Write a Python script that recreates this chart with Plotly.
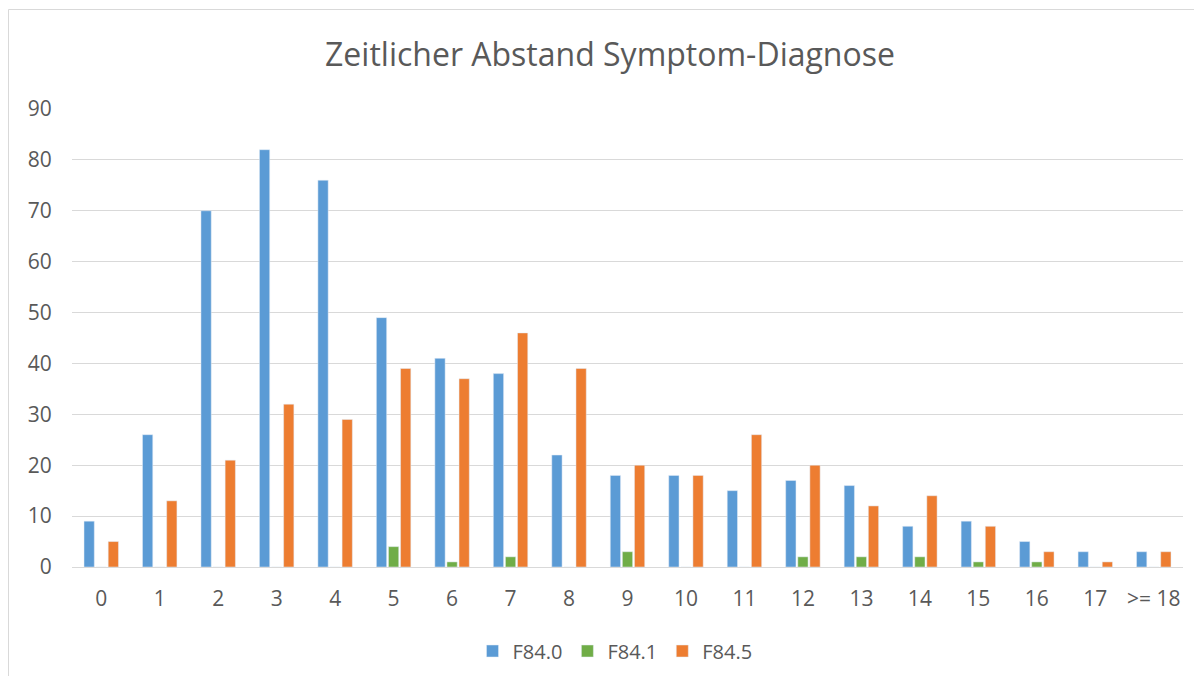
import plotly.graph_objects as go

categories = ["0", "1", "2", "3", "4", "5", "6", "7", "8", "9", "10", "11", "12", "13", "14", "15", "16", "17", ">= 18"]
f840 = [9, 26, 70, 82, 76, 49, 41, 38, 22, 18, 18, 15, 17, 16, 8, 9, 5, 3, 3]
f841 = [0, 0, 0, 0, 0, 4, 1, 2, 0, 3, 0, 0, 2, 2, 2, 1, 1, 0, 0]
f845 = [5, 13, 21, 32, 29, 39, 37, 46, 39, 20, 18, 26, 20, 12, 14, 8, 3, 1, 3]
y_ticks = [0, 10, 20, 30, 40, 50, 60, 70, 80, 90]

FONT = "'Open Sans', sans-serif"
GRAY = "#595959"

fig = go.Figure()
fig.add_bar(x=categories, y=f840, name="F84.0", marker_color="#5B9BD5")
fig.add_bar(x=categories, y=f841, name="F84.1", marker_color="#70AD47")
fig.add_bar(x=categories, y=f845, name="F84.5", marker_color="#ED7D31")

# page is offset by the 8px body margin
W, H = 1186, 668
L, T = 64, 101
R = W - 1175
B = H - 559
pw, ph = W - L - R, H - T - B

fig.update_layout(
    width=W, height=H,
    margin=dict(l=L, r=R, t=T, b=B, autoexpand=False),
    paper_bgcolor="white", plot_bgcolor="white",
    barmode="group", bargap=0.38, bargroupgap=0.15,
    font=dict(family=FONT, color=GRAY, size=20),
    title=dict(text="Zeitlicher Abstand Symptom-Diagnose", x=602 / W, xanchor="center",
               y=1 - 47 / H, yanchor="middle", font=dict(size=32, color=GRAY, family=FONT)),
    legend=dict(orientation="h", x=(607 - L) / pw, xanchor="center", y=(559 - 643) / ph, yanchor="middle",
                font=dict(size=20, color=GRAY, family=FONT), traceorder="normal"),
    xaxis=dict(showgrid=False, showline=True, linecolor="#d9d9d9", linewidth=1, automargin=False,
               ticks="outside", ticklen=13, tickcolor="rgba(0,0,0,0)",
               tickfont=dict(size=21, color=GRAY, family=FONT)),
    yaxis=dict(range=[0, 90], tickvals=y_ticks, showgrid=True, gridcolor="#d9d9d9", gridwidth=1,
               zeroline=False, showline=False, ticks="outside", ticklen=15, automargin=False,
               tickcolor="rgba(0,0,0,0)", tickfont=dict(size=21, color=GRAY, family=FONT)),
    shapes=[dict(type="rect", xref="paper", yref="paper",
                 x0=(0.5 - L) / pw, x1=(1200 - L) / pw,
                 y0=(559 - 700) / ph, y1=(559 - 1.5) / ph,
                 line=dict(color="#d9d9d9", width=1), fillcolor="rgba(0,0,0,0)", layer="below")],
)

fig.write_html("out.html")
